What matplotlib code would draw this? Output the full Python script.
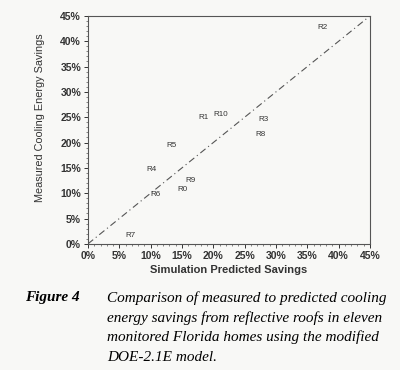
import matplotlib

matplotlib.use("Agg")
import matplotlib.pyplot as plt
from matplotlib.ticker import MultipleLocator, PercentFormatter

# Site labels with (predicted, measured) savings in percent
sites = ["R2", "R1", "R10", "R3", "R8", "R5", "R4", "R9", "R0", "R6", "R7"]
predicted = [37.5, 18.4, 21.1, 28.0, 27.5, 13.4, 10.2, 16.3, 15.0, 10.7, 6.7]
measured = [42.7, 24.9, 25.6, 24.5, 21.5, 19.5, 14.6, 12.6, 10.7, 9.7, 1.6]

# 1:1 reference line
ref_line = [0, 45]

sans = ["Liberation Sans", "DejaVu Sans"]
serif = ["Liberation Serif", "DejaVu Serif"]

fig = plt.figure(figsize=(4.0, 3.7), dpi=100)
fig.patch.set_facecolor("#f8f8f6")
ax = fig.add_axes([0.22, 0.341, 0.705, 0.616])
ax.set_facecolor("#f8f8f6")

ax.plot(ref_line, ref_line, color="#555555", linestyle=(0, (6, 3, 1, 3)),
        linewidth=0.8)

for name, px, my in zip(sites, predicted, measured):
    ax.text(px, my, name, ha="center", va="center", fontsize=5.8,
            color="#333333", family=sans)

ax.set_xlim(0, 45)
ax.set_ylim(0, 45)
ax.xaxis.set_major_locator(MultipleLocator(5))
ax.yaxis.set_major_locator(MultipleLocator(5))
ax.xaxis.set_minor_locator(MultipleLocator(1))
ax.yaxis.set_minor_locator(MultipleLocator(1))
ax.xaxis.set_major_formatter(PercentFormatter(decimals=0))
ax.yaxis.set_major_formatter(PercentFormatter(decimals=0))
ax.tick_params(which="major", length=3, width=0.7, labelsize=7.5, pad=2,
               colors="#333333")
ax.tick_params(which="minor", length=1.5, width=0.5, colors="#555555")
for lab in ax.get_xticklabels() + ax.get_yticklabels():
    lab.set_fontweight("bold")
    lab.set_family(sans)
for sp in ax.spines.values():
    sp.set_color("#555555")
    sp.set_linewidth(0.8)

ax.set_xlabel("Simulation Predicted Savings", fontsize=8, fontweight="bold",
              color="#333333", labelpad=3, family=sans)
ax.set_ylabel("Measured Cooling Energy Savings", fontsize=7.8,
              color="#333333", family=sans)
ax.yaxis.set_label_coords(-0.152, 0.553)

# Caption
fig.text(25 / 400, 1 - 298 / 370, "Figure 4", fontsize=11, style="italic",
         fontweight="bold", family=serif, va="center", ha="left")
caption = [
    "Comparison of measured to predicted cooling",
    "energy savings from reflective roofs in eleven",
    "monitored Florida homes using the modified",
    "DOE-2.1E model.",
]
for i, line in enumerate(caption):
    fig.text(107 / 400, 1 - (298 + 19.7 * i) / 370, line, fontsize=11,
             style="italic", family=serif, va="center", ha="left")

fig.savefig("out.png", dpi=100, facecolor=fig.get_facecolor())
